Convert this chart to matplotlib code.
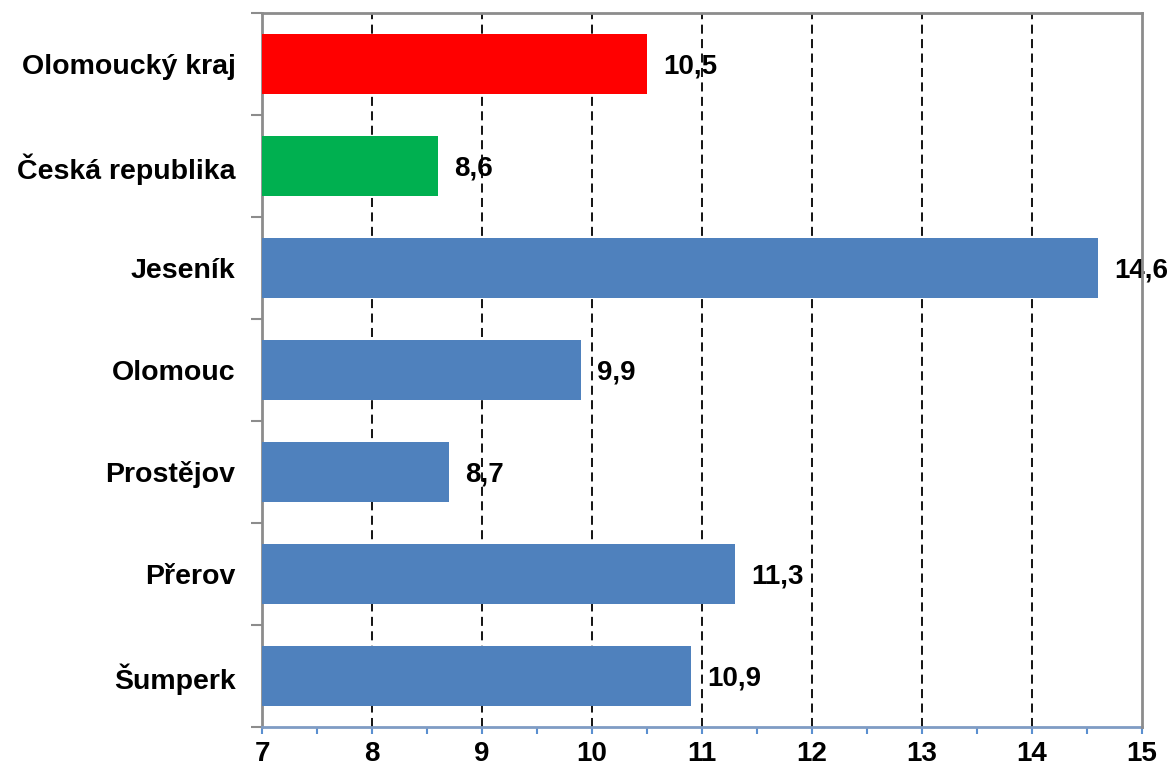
import matplotlib
matplotlib.use("Agg")
import matplotlib.pyplot as plt
from matplotlib.ticker import MultipleLocator
import numpy as np

categories = ["Olomoucký kraj", "Česká republika", "Jeseník", "Olomouc", "Prostějov", "Přerov", "Šumperk"]
values = [10.5, 8.6, 14.6, 9.9, 8.7, 11.3, 10.9]
colors = ["#FF0000", "#00B050", "#4F81BD", "#4F81BD", "#4F81BD", "#4F81BD", "#4F81BD"]
value_labels = ["10,5", "8,6", "14,6", "9,9", "8,7", "11,3", "10,9"]
x_ticks = [7, 8, 9, 10, 11, 12, 13, 14, 15]

plt.rcParams['font.family'] = ['Liberation Sans', 'DejaVu Sans']

fig = plt.figure(figsize=(11.73, 7.71), dpi=100)
ax = fig.add_axes([262/1173, 1-727/771, (1142-262)/1173, (727-13)/771])

y = np.arange(len(categories))
ax.barh(y, np.array(values) - 7, left=7, height=0.59, color=colors, zorder=3)
ax.set_xlim(7, 15)
ax.set_ylim(len(categories) - 0.5, -0.5)

for yi, v, lab in zip(y, values, value_labels):
    ax.annotate(lab, (v, yi), xytext=(16, -3), textcoords='offset pixels',
                va='center', ha='left', fontsize=20, fontweight='bold', zorder=4)

for xv in x_ticks[1:-1]:
    ax.axvline(xv, color='black', linestyle=(0, (5, 3)), linewidth=1.3, zorder=2)

ax.set_xticks(x_ticks)
ax.set_xticklabels([str(t) for t in x_ticks], fontsize=20, fontweight='bold')
ax.xaxis.set_minor_locator(MultipleLocator(0.5))
ax.tick_params(axis='x', which='both', direction='out', length=5, width=1.5,
               color='#5B8FD0', pad=5)

ax.set_yticks(y)
ax.set_yticklabels(categories, fontsize=20.5, fontweight='bold')
ax.tick_params(axis='y', which='major', length=0, pad=19)
ax.set_yticks(np.arange(-0.5, len(categories)), minor=True)
ax.tick_params(axis='y', which='minor', direction='out', length=8, width=1.5, color='#8C8C8C')

for s in ['left', 'top', 'right']:
    ax.spines[s].set_color('#8C8C8C')
    ax.spines[s].set_linewidth(2)
ax.spines['bottom'].set_color('#7F9CC4')
ax.spines['bottom'].set_linewidth(2)
ax.spines['right'].set_zorder(5)

fig.savefig("out.png", dpi=100)
